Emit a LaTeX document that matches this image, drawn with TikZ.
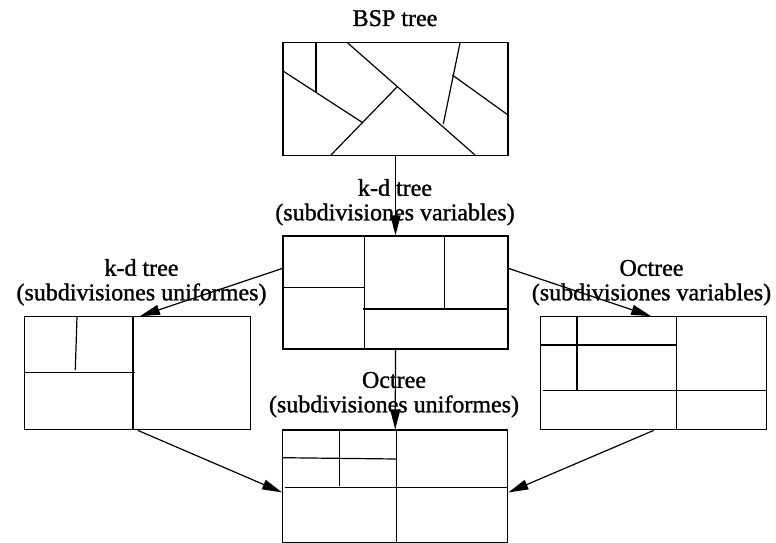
\documentclass[tikz,border=0pt]{standalone}
\usepackage{fontspec}
\setmainfont{Liberation Serif}[FakeBold=1.2]
\newfontfamily\lblfont{Liberation Serif}[FakeBold=1.2]
\usetikzlibrary{arrows.meta,calc}
\begin{document}
\begin{tikzpicture}[x=1pt,y=-1pt,line width=1.2pt,
  panel/.style={draw,rectangle,inner sep=0pt,minimum width=225pt,minimum height=113pt},
  lbl/.style={align=center,inner sep=0pt,font=\lblfont\fontsize{24}{24.5}\selectfont},
  conn/.style={-{Triangle[length=20pt,width=10pt]},line width=1.2pt}]
\useasboundingbox (0,0) rectangle (776,543);
% panels
\node[panel] (bsp) at (395.5,99) {};
\node[panel] (kdvar) at (395.5,292.5) {};
\node[panel,minimum width=226pt] (kduni) at (137.5,373.3) {};
\node[panel,minimum width=226pt] (octvar) at (653.7,373.3) {};
\node[panel,minimum height=112.5pt] (octuni) at (395.2,486.3) {};
% labels
\node[lbl,anchor=base] (tbsp) at (395,26) {BSP tree};
\node[lbl,anchor=south] (tkdvar) at (395,226) {k-d tree\\(subdivisiones variables)};
\node[lbl,anchor=south] (tkduni) at (141.5,306) {k-d tree\\(subdivisiones uniformes)};
\node[lbl,anchor=south] (toctvar) at (651.5,306) {Octree\\(subdivisiones variables)};
\node[lbl,anchor=south] (toctuni) at (394,418) {Octree\\(subdivisiones uniformes)};
% BSP interior
\draw (316,43) -- (316,92);
\draw (283,71) -- (362.7,122.7);
\draw (347.7,43) -- (475,155);
\draw (331,155) -- (396.7,87.3);
\draw (460,43) -- (443.3,124);
\draw (452.3,75) -- (508,115);
% kd variable interior
\draw (364.7,236) -- (364.7,349);
\draw (283,287.7) -- (364.7,287.7);
\draw (444.3,236) -- (444.3,309);
\draw (363,309) -- (509,309);
% kd uniform interior
\draw (133,316.7) -- (133,430);
\draw (24.3,372.7) -- (134.7,372.7);
\draw (77,316.7) -- (75.3,370);
% octree variable interior
\draw (676.7,316.7) -- (676.7,430);
\draw (543,390.7) -- (766.7,390.7);
\draw (540.7,345) -- (676.7,345);
\draw (577,316.7) -- (577,390.7);
% octree uniform interior
\draw (396.7,430) -- (396.7,542.7);
\draw (285,487.3) -- (507.7,487.3);
\draw (282.7,457.7) -- (396.7,459);
\draw (339.3,430) -- (339.3,486);
% connectors
\draw[conn] (bsp.south) -- (kdvar.north);
\draw[conn] ($(kdvar.north west)+(0,33)$) -- ($(kduni.north west)+(116,0)$);
\draw[conn] ($(kdvar.north east)+(0,33)$) -- ($(octvar.north west)+(111,0)$);
\draw[conn] (kdvar.south) -- (octuni.north);
\draw[conn] ($(kduni.south west)+(114,0)$) -- ($(octuni.north west)+(0,63)$);
\draw[conn] (octvar.south) -- ($(octuni.north east)+(0,63)$);
\end{tikzpicture}
\end{document}
